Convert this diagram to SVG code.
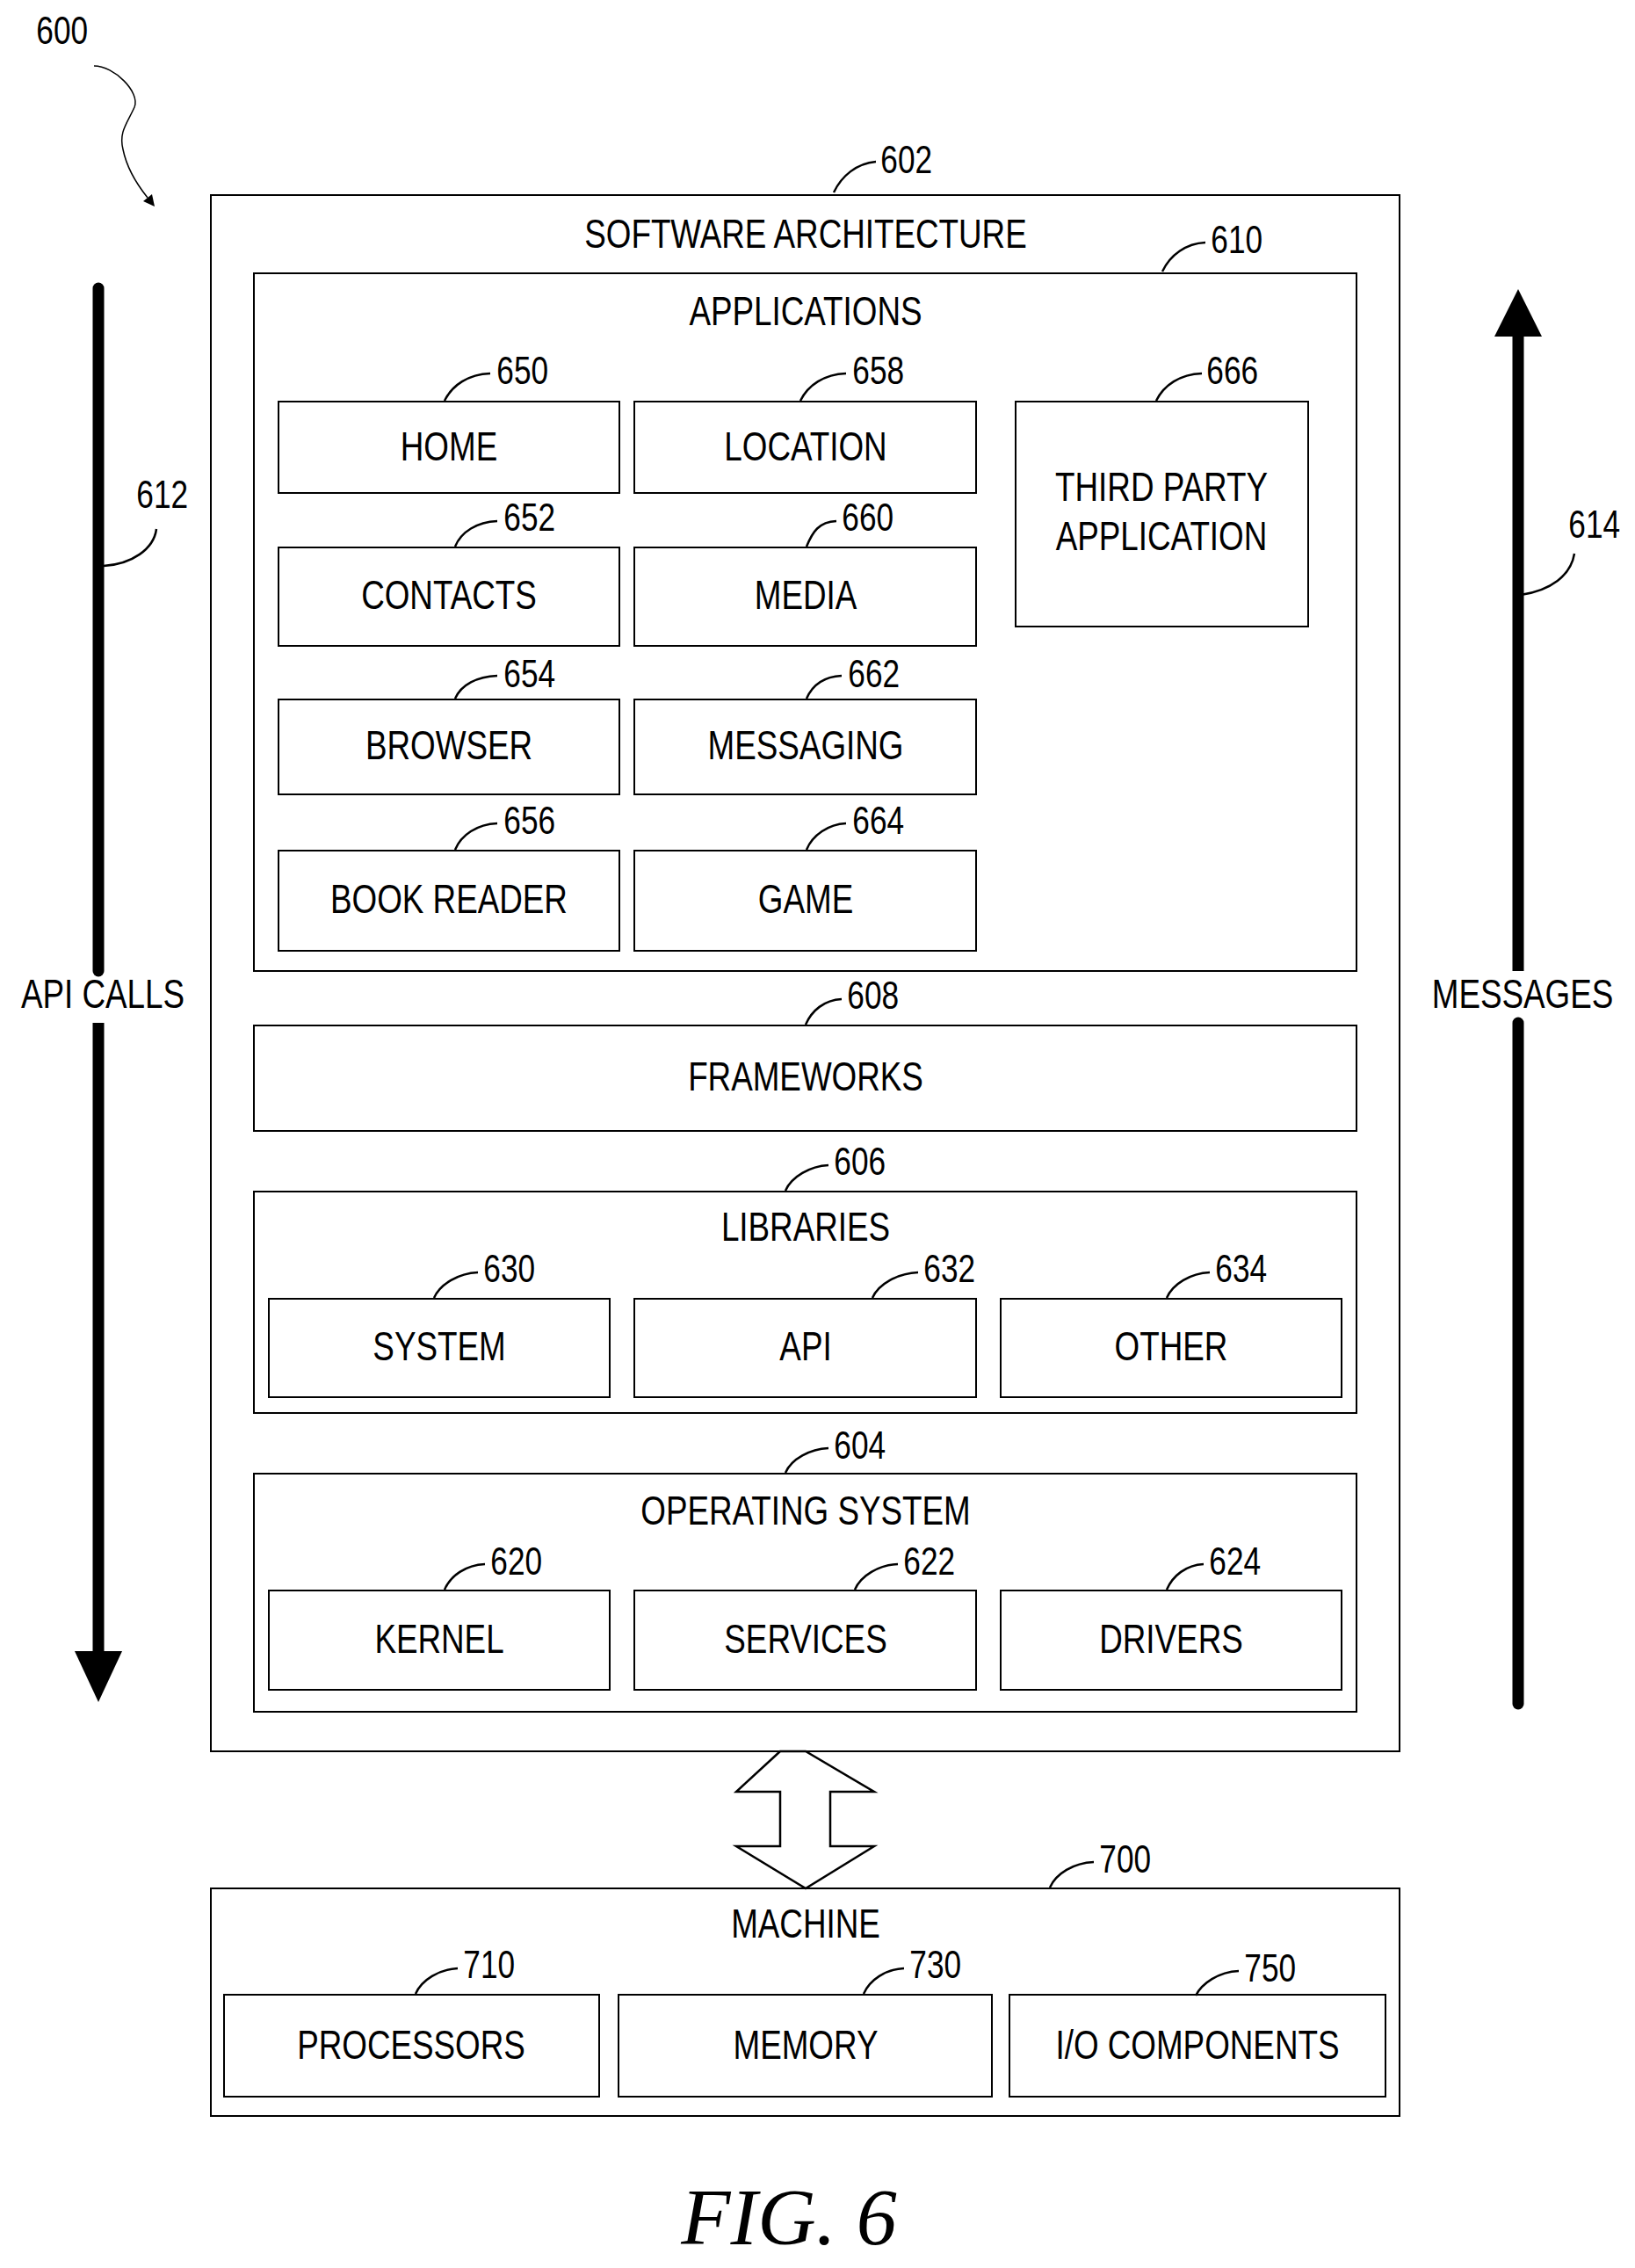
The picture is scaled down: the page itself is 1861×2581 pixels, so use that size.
<svg xmlns="http://www.w3.org/2000/svg" width="1861" height="2581" viewBox="0 0 1861 2581">
<style>
rect{fill:#fff;stroke:#000;stroke-width:2}
text{font-family:"Liberation Sans",Arial,sans-serif;font-size:46px;fill:#000;text-anchor:middle;transform-box:fill-box;transform-origin:center;transform:scaleX(0.8)}
.n{font-size:44px;text-anchor:start}
.l{fill:none;stroke:#000;stroke-width:2.5}
.big{fill:none;stroke:#000;stroke-width:13;stroke-linecap:round}
.fig{font-family:"Liberation Serif","Times New Roman",serif;font-style:italic;font-size:92px;transform:none}
</style>
<rect x="0" y="0" width="1861" height="2581" style="stroke:none"/>
<g id="ref600">
<text class="n" x="34" y="50">600</text>
<path class="l" d="M107,75 C130,75 160,105 153,122 C145,140 135,150 140,170 C145,195 160,215 168,225" style="stroke-width:1.5"/>
<polygon points="163,229 176,235 173,221"/>
</g>
<g id="sa">
<rect x="240" y="222" width="1353" height="1771"/>
<text x="917" y="282">SOFTWARE ARCHITECTURE</text>
<text class="n" x="995" y="197">602</text>
</g>
<g id="apps">
<rect x="289" y="311" width="1255" height="794"/>
<text x="917" y="370">APPLICATIONS</text>
<text class="n" x="1371" y="288">610</text>
</g>
<g id="n650"><rect x="317" y="457" width="388" height="104"/><text x="511" y="524">HOME</text><text class="n" x="558" y="437">650</text></g>
<g id="n658"><rect x="722" y="457" width="389" height="104"/><text x="917" y="524">LOCATION</text><text class="n" x="963" y="437">658</text></g>
<g id="n666"><rect x="1156" y="457" width="333" height="256"/><text x="1322" y="570">THIRD PARTY</text><text x="1322" y="626">APPLICATION</text><text class="n" x="1366" y="437">666</text></g>
<g id="n652"><rect x="317" y="623" width="388" height="112"/><text x="511" y="693">CONTACTS</text><text class="n" x="566" y="604">652</text></g>
<g id="n660"><rect x="722" y="623" width="389" height="112"/><text x="917" y="693">MEDIA</text><text class="n" x="951" y="604">660</text></g>
<g id="n654"><rect x="317" y="796" width="388" height="108"/><text x="511" y="864">BROWSER</text><text class="n" x="566" y="782">654</text></g>
<g id="n662"><rect x="722" y="796" width="389" height="108"/><text x="917" y="864">MESSAGING</text><text class="n" x="958" y="782">662</text></g>
<g id="n656"><rect x="317" y="968" width="388" height="114"/><text x="511" y="1039">BOOK READER</text><text class="n" x="566" y="949">656</text></g>
<g id="n664"><rect x="722" y="968" width="389" height="114"/><text x="917" y="1039">GAME</text><text class="n" x="963" y="949">664</text></g>
<g id="n608"><rect x="289" y="1167" width="1255" height="120"/><text x="917" y="1241">FRAMEWORKS</text><text class="n" x="957" y="1148">608</text></g>
<g id="n606"><rect x="289" y="1356" width="1255" height="252"/><text x="917" y="1412">LIBRARIES</text><text class="n" x="942" y="1337">606</text></g>
<g id="n630"><rect x="306" y="1478" width="388" height="112"/><text x="500" y="1548">SYSTEM</text><text class="n" x="543" y="1459">630</text></g>
<g id="n632"><rect x="722" y="1478" width="389" height="112"/><text x="917" y="1548">API</text><text class="n" x="1044" y="1459">632</text></g>
<g id="n634"><rect x="1139" y="1478" width="388" height="112"/><text x="1333" y="1548">OTHER</text><text class="n" x="1376" y="1459">634</text></g>
<g id="n604"><rect x="289" y="1677" width="1255" height="271"/><text x="917" y="1735">OPERATING SYSTEM</text><text class="n" x="942" y="1660">604</text></g>
<g id="n620"><rect x="306" y="1810" width="388" height="113"/><text x="500" y="1881">KERNEL</text><text class="n" x="551" y="1792">620</text></g>
<g id="n622"><rect x="722" y="1810" width="389" height="113"/><text x="917" y="1881">SERVICES</text><text class="n" x="1021" y="1792">622</text></g>
<g id="n624"><rect x="1139" y="1810" width="388" height="113"/><text x="1333" y="1881">DRIVERS</text><text class="n" x="1369" y="1792">624</text></g>
<g id="n700"><rect x="240" y="2149" width="1353" height="259"/><text x="917" y="2205">MACHINE</text><text class="n" x="1244" y="2131">700</text></g>
<g id="n710"><rect x="255" y="2270" width="427" height="116"/><text x="468" y="2343">PROCESSORS</text><text class="n" x="520" y="2251">710</text></g>
<g id="n730"><rect x="704" y="2270" width="425" height="116"/><text x="917" y="2343">MEMORY</text><text class="n" x="1028" y="2251">730</text></g>
<g id="n750"><rect x="1149" y="2270" width="428" height="116"/><text x="1363" y="2343">I/O COMPONENTS</text><text class="n" x="1409" y="2255">750</text></g>
<g id="connectors">
<path class="l" d="M949,219 C958,200 975,186 997,184"/>
<path class="l" d="M1323,309 C1332,290 1350,277 1372,276"/>
<path class="l" d="M506,456 C515,438 533,426 558,425"/>
<path class="l" d="M911,456 C920,438 938,426 963,425"/>
<path class="l" d="M1316,456 C1325,438 1343,426 1368,425"/>
<path class="l" d="M518,622 C525,605 543,594 566,593"/>
<path class="l" d="M918,622 C925,605 932,594 952,593"/>
<path class="l" d="M518,795 C525,779 543,770 566,769"/>
<path class="l" d="M918,795 C925,779 938,770 958,769"/>
<path class="l" d="M518,967 C525,950 543,938 566,937"/>
<path class="l" d="M918,967 C925,950 943,938 963,937"/>
<path class="l" d="M917,1166 C924,1150 938,1138 958,1137"/>
<path class="l" d="M894,1355 C901,1339 922,1327 943,1326"/>
<path class="l" d="M494,1477 C501,1461 522,1449 544,1448"/>
<path class="l" d="M993,1477 C1000,1461 1022,1449 1045,1448"/>
<path class="l" d="M1328,1477 C1335,1461 1355,1449 1377,1448"/>
<path class="l" d="M894,1676 C901,1660 922,1649 943,1648"/>
<path class="l" d="M506,1809 C513,1793 530,1781 552,1780"/>
<path class="l" d="M973,1809 C980,1793 1000,1781 1022,1780"/>
<path class="l" d="M1328,1809 C1335,1793 1350,1781 1370,1780"/>
<path class="l" d="M1195,2148 C1202,2132 1222,2120 1245,2119"/>
<path class="l" d="M473,2269 C480,2253 500,2241 521,2240"/>
<path class="l" d="M983,2269 C990,2253 1008,2241 1029,2240"/>
<path class="l" d="M1361,2271 C1368,2257 1387,2244 1410,2243"/>
<polygon points="888,1993 838,2039 888,2039 888,2101 838,2101 917,2149 995,2101 945,2101 945,2039 995,2039 917,1993" style="fill:#fff;stroke:#000;stroke-width:2.5"/>
</g>
<g id="api">
<line class="big" x1="112" y1="328" x2="112" y2="1105"/>
<line class="big" x1="112" y1="1164" x2="112" y2="1885" style="stroke-linecap:butt"/>
<polygon points="85,1879 139,1879 112,1937"/>
<text x="117" y="1147">API CALLS</text>
<text class="n" x="148" y="578">612</text>
<path class="l" d="M118,644 C150,642 175,625 178,602"/>
</g>
<g id="msg">
<line class="big" x1="1728" y1="378" x2="1728" y2="1105" style="stroke-linecap:butt"/>
<line class="big" x1="1728" y1="1164" x2="1728" y2="1939"/>
<polygon points="1701,383 1755,383 1728,329"/>
<text x="1733" y="1147">MESSAGES</text>
<text class="n" x="1778" y="612">614</text>
<path class="l" d="M1731,677 C1765,672 1788,655 1792,630"/>
</g>
<text class="fig" x="898" y="2554">FIG. 6</text>
</svg>
